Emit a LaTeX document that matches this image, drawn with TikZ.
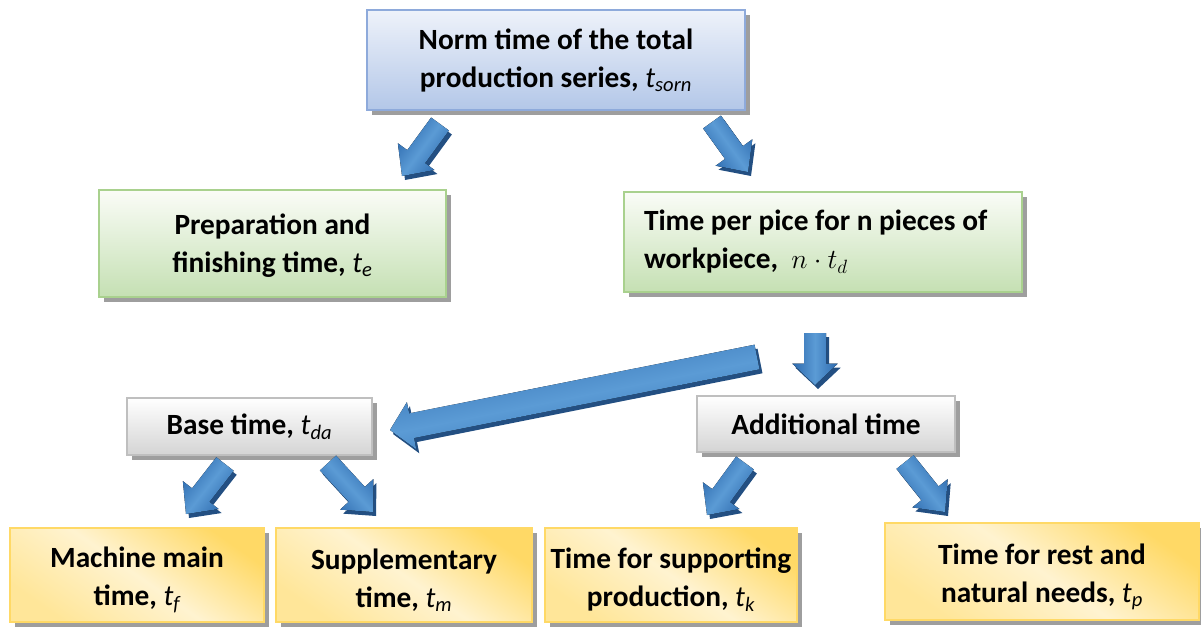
\documentclass[tikz,border=0pt]{standalone}
\usepackage{fontspec}
\setmainfont{Carlito}
\usetikzlibrary{calc,shadows}
\definecolor{blueTop}{HTML}{EEF2FA}
\definecolor{blueBot}{HTML}{B3C7E8}
\definecolor{blueLine}{HTML}{8EAADB}
\definecolor{grTop}{HTML}{FAFCF7}
\definecolor{grBot}{HTML}{C5E0B3}
\definecolor{grLine}{HTML}{A9D18E}
\definecolor{gyTop}{HTML}{FFFFFF}
\definecolor{gyBot}{HTML}{D4D4D4}
\definecolor{gyLine}{HTML}{BFBFBF}
\definecolor{yeDark}{HTML}{FFD966}
\definecolor{yeLight}{HTML}{FFF3D0}
\definecolor{yeMid}{HTML}{FFE699}
\definecolor{yeLine}{HTML}{FFD966}
\definecolor{arDark}{HTML}{2D6AAE}
\definecolor{arLight}{HTML}{5B9BD5}
\definecolor{arSide}{HTML}{234F82}
\newcommand\tsub[2]{{\normalfont\itshape #1\textsubscript{#2}}}
\newcommand\barrow[6]{%
  \coordinate (#1-#2) at ($(#2)!#5!(#1)$);
  \fill[arSide, transform canvas={xshift=2.25pt,yshift=-3pt}]
    ($(#1)!#3!90:(#2)$) -- ($(#1-#2)!#3!-90:(#1)$) -- ($(#1-#2)!#4!-90:(#1)$) -- (#2)
    -- ($(#1-#2)!#4!90:(#1)$) -- ($(#1-#2)!#3!90:(#1)$) -- ($(#1)!#3!-90:(#2)$) -- cycle;
  \fill[top color=arDark, bottom color=arDark, middle color=arLight, shading angle=#6]
    ($(#1)!#3!90:(#2)$) -- ($(#1-#2)!#3!-90:(#1)$) -- ($(#1-#2)!#4!-90:(#1)$) -- (#2)
    -- ($(#1-#2)!#4!90:(#1)$) -- ($(#1-#2)!#3!90:(#1)$) -- ($(#1)!#3!-90:(#2)$) -- cycle;
}
\newcommand\lowstrut[1]{\rule{0pt}{#1}}
\begin{document}
\begin{tikzpicture}[x=0.75pt,y=-0.75pt,
  box/.style={rectangle, line width=1.4pt, inner sep=3pt,
    font=\fontsize{22}{28.5}\selectfont\bfseries, align=center,
    drop shadow={shadow xshift=3.5pt, shadow yshift=-3.5pt, fill=black!42, opacity=0.9}},
  bluebox/.style={box, draw=blueLine, top color=blueTop, bottom color=blueBot},
  greenbox/.style={box, draw=grLine, top color=grTop, bottom color=grBot},
  graybox/.style={box, draw=gyLine, top color=gyTop, bottom color=gyBot},
  yellowbox/.style={box, draw=yeLine, top color=yeDark, bottom color=yeMid, middle color=yeLight, shading angle=-35}]
\useasboundingbox (0,0) rectangle (1201,628);

\node[bluebox, minimum width=283.5pt, minimum height=75pt] (top) at (556,60)
  {Norm time of the total\\production series, \tsub{t}{sorn}};
\node[greenbox, minimum width=260.25pt, minimum height=80.25pt] (prep) at (272.5,243.5)
  {\lowstrut{19pt}Preparation and\\finishing time, \tsub{t}{e}};
\node[greenbox, minimum width=298.5pt, minimum height=75pt, text width=268.5pt, align=flush left] (piece) at (823,242)
  {Time per pice for n pieces of\\workpiece,~ $n\cdot t_d$};
\node[graybox, minimum width=183.75pt, minimum height=42.75pt] (base) at (249.5,426.5)
  {Base time, \tsub{t}{da}};
\node[graybox, minimum width=193.5pt, minimum height=42pt] (add) at (826,424)
  {Additional time};
\node[yellowbox, minimum width=190.5pt, minimum height=70.5pt] (mach) at (137,575)
  {\lowstrut{23pt}Machine main\\time, \tsub{t}{f}};
\node[yellowbox, minimum width=192pt, minimum height=70.5pt] (supp) at (404,575)
  {\lowstrut{23pt}Supplementary\\time, \tsub{t}{m}};
\node[yellowbox, minimum width=189pt, minimum height=70.5pt] (supprod) at (671,575)
  {\lowstrut{23pt}Time for supporting\\production, \tsub{t}{k}};
\node[yellowbox, minimum width=235.5pt, minimum height=72.75pt] (rest) at (1042,571.5)
  {\lowstrut{23pt}Time for rest and\\natural needs, \tsub{t}{p}};

\coordinate (a1s) at (440,124); \coordinate (a1e) at (402,176);
\coordinate (a2s) at (712,122); \coordinate (a2e) at (748,172);
\coordinate (a3s) at (757,357); \coordinate (a3e) at (390,430);
\coordinate (a4s) at (815,333); \coordinate (a4e) at (815,385);
\coordinate (b1s) at (225,464); \coordinate (b1e) at (186,514);
\coordinate (b2s) at (328,463); \coordinate (b2e) at (373,512);
\coordinate (b3s) at (745,463); \coordinate (b3e) at (707,515);
\coordinate (b4s) at (905,462); \coordinate (b4e) at (945,512);

\barrow{a1s}{a1e}{8.25pt}{17pt}{18pt}{233.8}
\barrow{a2s}{a2e}{8.25pt}{17pt}{18pt}{-54.2}
\barrow{a3s}{a3e}{9.4pt}{18pt}{16.5pt}{191.25}
\barrow{a4s}{a4e}{8.25pt}{17pt}{16pt}{-90}
\barrow{b1s}{b1e}{8.25pt}{17pt}{18pt}{232}
\barrow{b2s}{b2e}{8.25pt}{17pt}{18pt}{-47.4}
\barrow{b3s}{b3e}{8.25pt}{17pt}{18pt}{233.8}
\barrow{b4s}{b4e}{8.25pt}{17pt}{18pt}{-51.3}
\end{tikzpicture}
\end{document}
